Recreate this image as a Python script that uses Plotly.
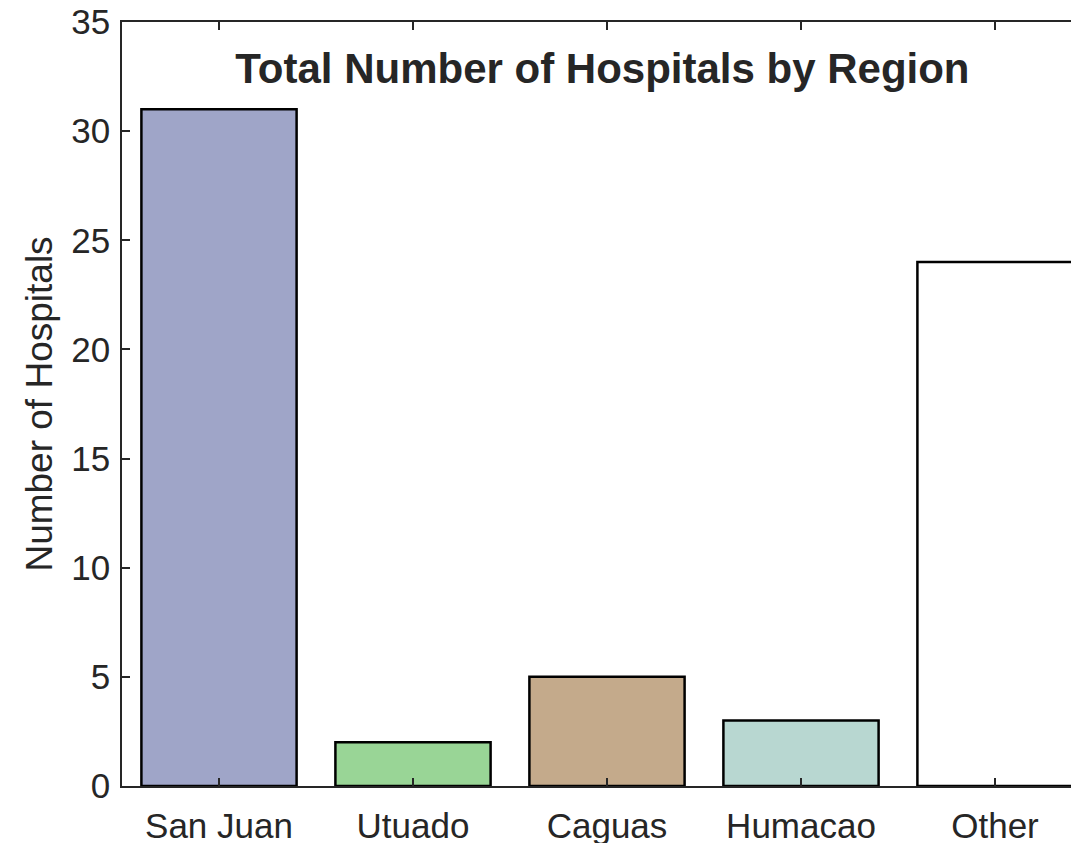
import plotly.graph_objects as go

regions = ["San Juan", "Utuado", "Caguas", "Humacao", "Other"]
hospitals = [31, 2, 5, 3, 24]
bar_colors = ["#9FA5C8", "#99D596", "#C4AA8B", "#B8D7D1", "#FFFFFF"]
y_ticks = [0, 5, 10, 15, 20, 25, 30, 35]

FONT = "Liberation Sans, Arial, Helvetica, sans-serif"
INK = "#262626"

fig = go.Figure(
    go.Bar(
        x=regions,
        y=hospitals,
        marker=dict(color=bar_colors, line=dict(color="#000000", width=2.5)),
        showlegend=False,
    )
)

fig.update_layout(
    width=1071,
    height=835,
    margin=dict(l=114, r=0, t=14, b=57, autoexpand=False),
    paper_bgcolor="white",
    plot_bgcolor="white",
    bargap=0.2,
    font=dict(family=FONT, color=INK, size=35),
    title=dict(
        text="<b>Total Number of Hospitals by Region</b>",
        font=dict(family=FONT, size=42, color=INK),
        xref="paper", yref="paper",
        x=0.502, y=0.94,
        xanchor="center", yanchor="middle",
        automargin=False,
    ),
)

fig.update_xaxes(
    type="category",
    range=[-0.5, 4.433],
    automargin=False,
    showline=True, linecolor=INK, linewidth=1.5,
    mirror="ticks",
    ticks="inside", ticklen=8, tickwidth=1.5, tickcolor=INK,
    showgrid=False, zeroline=False,
    tickfont=dict(family=FONT, size=35, color=INK),
    ticklabelstandoff=8,
    ticklabeloverflow="allow",
)

fig.update_yaxes(
    range=[0, 35],
    tickvals=y_ticks,
    automargin=False,
    showline=True, linecolor=INK, linewidth=1.5,
    mirror=False,
    ticks="inside", ticklen=8, tickwidth=1.5, tickcolor=INK,
    showgrid=False, zeroline=False,
    tickfont=dict(family=FONT, size=35, color=INK),
    ticklabelstandoff=3,
    ticklabeloverflow="allow",
    title=dict(text="Number of Hospitals", font=dict(family=FONT, size=37, color=INK), standoff=7),
)

fig.write_html("out.html")
